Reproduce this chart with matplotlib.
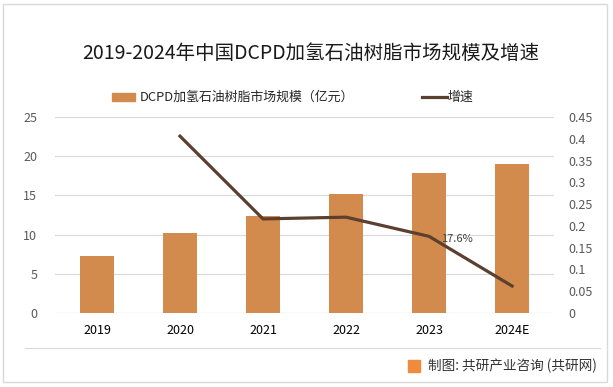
import matplotlib
matplotlib.use("Agg")
import matplotlib.pyplot as plt
from matplotlib.patches import Rectangle
from matplotlib.lines import Line2D

plt.rcParams['font.family'] = ['Noto Sans CJK SC', 'DejaVu Sans']

categories = ["2019", "2020", "2021", "2022", "2023", "2024E"]
market_size = [7.3, 10.2, 12.4, 15.2, 17.9, 19.0]
growth_years = ["2020", "2021", "2022", "2023", "2024E"]
growth = [0.406, 0.216, 0.220, 0.176, 0.062]
left_ticks = [0, 5, 10, 15, 20, 25]
right_ticks = [0, 0.05, 0.1, 0.15, 0.2, 0.25, 0.3, 0.35, 0.4, 0.45]
right_labels = ["0", "0.05", "0.1", "0.15", "0.2", "0.25", "0.3", "0.35", "0.4", "0.45"]

bar_color = "#D38B4D"
line_color = "#5B4030"
tick_color = "#595959"

fig = plt.figure(figsize=(6.13, 3.87), dpi=100)
ax = fig.add_axes([0.0905, 0.1912, 0.8125, 0.5065])
x = list(range(len(categories)))
ax.bar(x, market_size, width=0.41, color=bar_color, zorder=2)
ax.set_xlim(-0.5, len(categories) - 0.5)
ax.set_ylim(0, 25)
ax.set_yticks(left_ticks)
ax.set_xticks(x)
ax.set_xticklabels(categories, fontsize=9, color="#000000")
ax.tick_params(axis='y', labelsize=9, colors=tick_color, length=0, pad=13)
ax.tick_params(axis='x', length=0, pad=8)
ax.grid(axis='y', color="#D9D9D9", linewidth=0.8, zorder=0)
for s in ax.spines.values():
    s.set_visible(False)
ax.axhline(0, color="#D9D9D9", linewidth=0.8, zorder=1)

ax2 = ax.twinx()
gx = [categories.index(c) for c in growth_years]
ax2.plot(gx, growth, color=line_color, linewidth=2.3, zorder=3)
ax2.set_ylim(0, 0.45)
ax2.set_yticks(right_ticks)
ax2.set_yticklabels(right_labels)
ax2.tick_params(axis='y', labelsize=9, colors=tick_color, length=0, pad=11)
for s in ax2.spines.values():
    s.set_visible(False)
i23 = growth_years.index("2023")
ax2.annotate("17.6%", (gx[i23], growth[i23]), xytext=(9, -2), textcoords='offset points',
             fontsize=8, color="#404040", ha='left', va='center')

fig.text(311/613, 1-53/387, "2019-2024年中国DCPD加氢石油树脂市场规模及增速", ha='center', va='center',
         fontsize=14, color="#1a1a1a")

# legend
fig.patches.append(Rectangle((112/613, 1-101/387), 23/613, 8/387, transform=fig.transFigure,
                             color=bar_color))
fig.text(140/613, 1-97/387, "DCPD加氢石油树脂市场规模（亿元）", fontsize=9.3, va='center', ha='left', color="#262626")
fig.lines.append(Line2D([422/613, 447/613], [1-97/387, 1-97/387], transform=fig.transFigure,
                        color=line_color, linewidth=2.3))
fig.text(448/613, 1-97/387, "增速", fontsize=9.3, va='center', ha='left', color="#262626")

# footer
fig.lines.append(Line2D([25/613, 600/613], [1-348/387, 1-348/387], transform=fig.transFigure,
                        color="#D9D9D9", linewidth=0.8))
fig.patches.append(Rectangle((408/613, 1-372/387), 12/613, 12/387, transform=fig.transFigure,
                             color="#F08A3C"))
fig.text(428/613, 1-366/387, "制图: 共研产业咨询 (共研网)", fontsize=9.8, va='center', ha='left', color="#333333")

# border
fig.patches.append(Rectangle((3/613, 5/387), 604/613, 378/387, transform=fig.transFigure,
                             fill=False, edgecolor="#D9D9D9", linewidth=1))

fig.savefig("out.png", dpi=100)
